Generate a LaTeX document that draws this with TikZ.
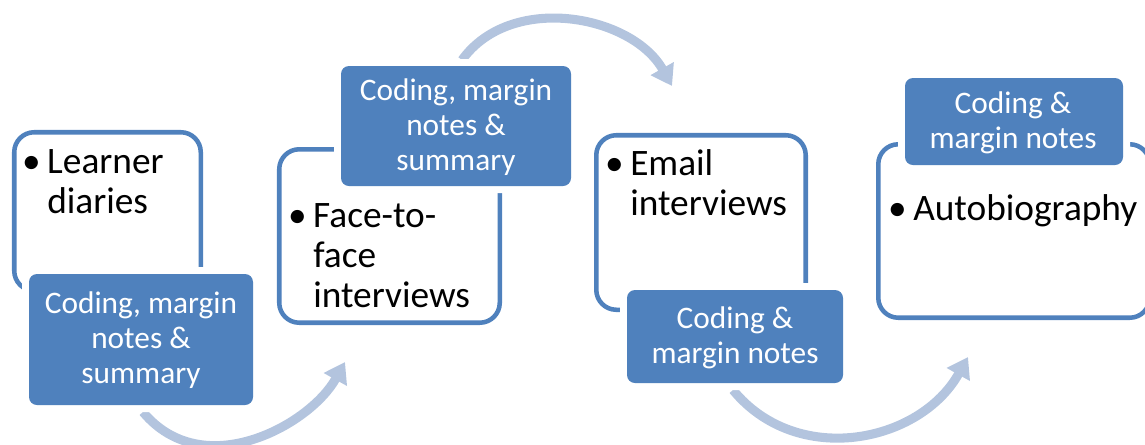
\documentclass[tikz,border=0pt]{standalone}
\usepackage{fontspec}
\setmainfont{Carlito}
\usetikzlibrary{arrows.meta}
\definecolor{accent}{RGB}{79,129,189}
\definecolor{arrowblue}{RGB}{179,196,222}
\tikzset{
  wbox/.style={draw=accent, fill=white, line width=3.4pt, rounded corners=15pt,
    inner sep=0pt, outer sep=0pt},
  bbox/.style={fill=accent, rounded corners=6pt, inner sep=0pt, outer sep=0pt,
    preaction={draw=white, line width=10.5pt}},
  btext/.style={text=black, anchor=base west, align=left, inner sep=0pt,
    font=\fontsize{28pt}{30pt}\selectfont},
  wtext/.style={text=white, anchor=base, align=center, inner sep=0pt,
    font=\fontsize{23.5pt}{26.25pt}\selectfont},
  arr/.style={draw=arrowblue, line width=6.8pt,
    -{Triangle[width=19pt,length=15pt]}}
}
\newcommand{\bul}{\llap{\textbullet\hspace{5pt}}}
\begin{document}
\begin{tikzpicture}[x=0.75pt,y=-0.75pt]
\useasboundingbox (0,0) rectangle (1145,444);
% arrow end points
\coordinate (a1s) at (143,412);
\coordinate (a1e) at (345,362);
\coordinate (a2s) at (462,60);
\coordinate (a2e) at (672,86);
\coordinate (a3s) at (733,390);
\coordinate (a3e) at (968,357);
\draw[arr] (a1s) .. controls (203,484) and (310,425) .. (a1e);
\draw[arr] (a2s) .. controls (511,-8) and (632,15) .. (a2e);
\draw[arr] (a3s) .. controls (797,468) and (920,443) .. (a3e);
% white boxes
\node[wbox, minimum width=139.9pt, minimum height=118.9pt] (w1) at (107.5,211.5) {};
\node[wbox, minimum width=165.4pt, minimum height=130.1pt] (w2) at (389.5,236) {};
\node[wbox, minimum width=157.1pt, minimum height=130.9pt] (w3) at (701,222.5) {};
\node[wbox, minimum width=203.6pt, minimum height=130.1pt] (w4) at (1014,231) {};
% blue boxes
\node[bbox, minimum width=168pt, minimum height=98.25pt] (b1) at (141,339.5) {};
\node[bbox, minimum width=172.5pt, minimum height=90pt] (b2) at (456,126) {};
\node[bbox, minimum width=162pt, minimum height=69.75pt] (b3) at (735,336.5) {};
\node[bbox, minimum width=163.5pt, minimum height=65.25pt] (b4) at (1014,121.5) {};
% bullet texts (anchor at last line baseline)
\node[btext] (t1) at (47,213) {\bul Learner\\diaries};
\node[btext] (t2) at (313,307) {\bul Face-to-\\face\\interviews};
\node[btext] (t3) at (630,215) {\bul Email\\interviews};
\node[btext] (t4) at (913,220) {\bul Autobiography};
% white texts (anchor at last line baseline)
\node[wtext] (s1) at (141,383) {Coding, margin\\notes \&\\summary};
\node[wtext] (s2) at (456,170) {Coding, margin\\notes \&\\summary};
\node[wtext] (s3) at (735,363) {Coding \&\\margin notes};
\node[wtext] (s4) at (1013,148) {Coding \&\\margin notes};
\end{tikzpicture}
\end{document}
